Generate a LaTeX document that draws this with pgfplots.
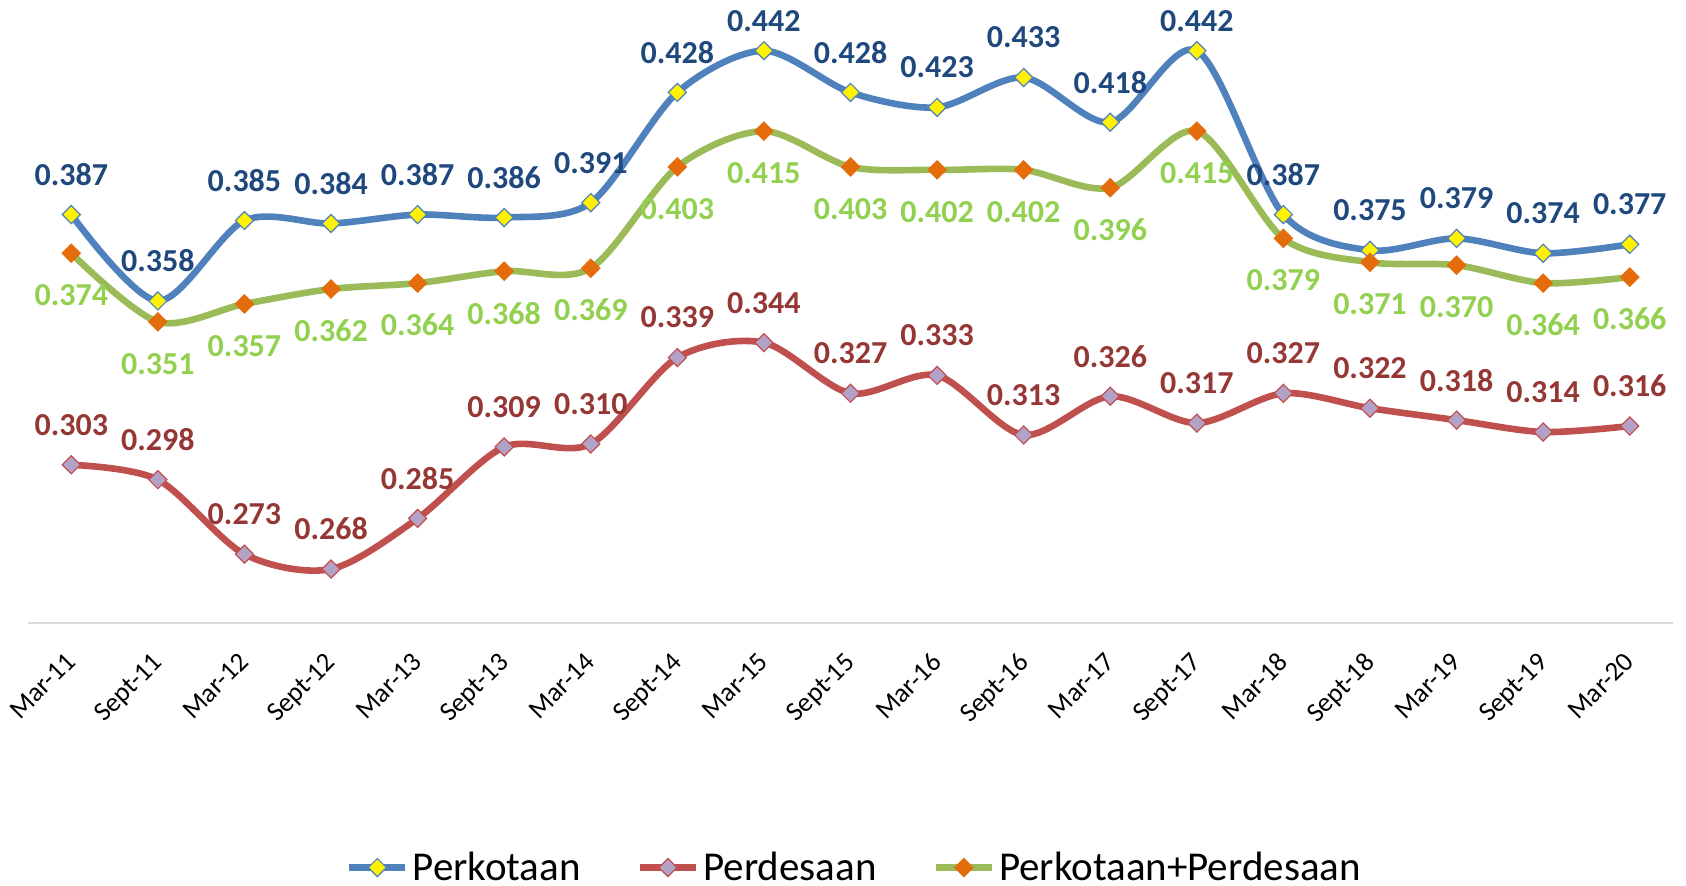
\documentclass[border=0pt]{standalone}
\usepackage{fontspec}
\setmainfont{Carlito}
\usepackage{pgfplots}
\pgfplotsset{compat=1.18}
\definecolor{lblue}{HTML}{4F81BD}
\definecolor{lred}{HTML}{C0504D}
\definecolor{lgreen}{HTML}{9BBB59}
\definecolor{tblue}{HTML}{1F497D}
\definecolor{tred}{HTML}{953735}
\definecolor{tgreen}{HTML}{92D050}
\definecolor{mlav}{HTML}{B3A2C7}
\definecolor{morange}{HTML}{E46C0A}
\begin{document}
\begin{tikzpicture}
\path[use as bounding box] (-14pt,-131.65pt) rectangle (829pt,311.35pt);
\begin{axis}[
  at={(0,0)}, anchor=south west,
  scale only axis, width=822.5pt, height=297.9pt,
  xmin=-0.5, xmax=18.5, ymin=0.25, ymax=0.45,
  clip=false,
  axis y line=none,
  axis x line=bottom,
  x axis line style={-, draw=black!15, line width=1pt},
  xtick={0,...,18},
  major tick length=0pt,
  xticklabels={Mar-11,Sept-11,Mar-12,Sept-12,Mar-13,Sept-13,Mar-14,Sept-14,Mar-15,Sept-15,Mar-16,Sept-16,Mar-17,Sept-17,Mar-18,Sept-18,Mar-19,Sept-19,Mar-20},
  xticklabel style={rotate=45, anchor=north east, inner sep=0pt, font=\fontsize{13.5}{16}\selectfont, yshift=-7.5pt, xshift=-12.3pt},
  smooth, tension=0.5,
  every axis plot/.append style={line width=3.3pt},
  point meta=explicit symbolic,
  nodes near coords,
  legend columns=3,
  legend style={draw=none, fill=none, at={(0.503,-0.411)}, anchor=center,
    font=\fontsize{20.5}{24}\selectfont, nodes={inner ysep=1pt},
    /tikz/every even column/.append style={column sep=26pt}},
  legend image code/.code={\draw[mark repeat=2,mark phase=2,line width=3.3pt] plot coordinates {(0pt,0pt) (14pt,0pt) (28pt,0pt)};},
]
\addplot[lblue, mark=square*, mark size=3.2pt, mark options={rotate=45, fill=yellow, draw=lblue, line width=0.6pt},
  every node near coord/.style={anchor=center, yshift=20pt, text=tblue, font=\fontsize{16}{19}\selectfont\bfseries}]
coordinates {(0,0.387)[0.387] (1,0.358)[0.358] (2,0.385)[0.385] (3,0.384)[0.384] (4,0.387)[0.387] (5,0.386)[0.386] (6,0.391)[0.391] (7,0.428)[0.428] (8,0.442)[{}] (9,0.428)[0.428] (10,0.423)[0.423] (11,0.433)[0.433] (12,0.418)[0.418] (13,0.442)[{}] (14,0.387)[0.387] (15,0.375)[0.375] (16,0.379)[0.379] (17,0.374)[0.374] (18,0.377)[0.377]};
\addlegendentry{Perkotaan}
\addplot[draw=none, mark=none, forget plot,
  every node near coord/.style={anchor=center, yshift=15pt, text=tblue, font=\fontsize{16}{19}\selectfont\bfseries}]
coordinates {(8,0.442)[0.442] (13,0.442)[0.442]};
\addplot[lred, mark=square*, mark size=3.2pt, mark options={rotate=45, fill=mlav, draw=lred, line width=0.6pt},
  every node near coord/.style={anchor=center, yshift=20pt, text=tred, font=\fontsize{16}{19}\selectfont\bfseries}]
coordinates {(0,0.303)[0.303] (1,0.298)[0.298] (2,0.273)[0.273] (3,0.268)[0.268] (4,0.285)[0.285] (5,0.309)[0.309] (6,0.310)[0.310] (7,0.339)[0.339] (8,0.344)[0.344] (9,0.327)[0.327] (10,0.333)[0.333] (11,0.313)[0.313] (12,0.326)[0.326] (13,0.317)[0.317] (14,0.327)[0.327] (15,0.322)[0.322] (16,0.318)[0.318] (17,0.314)[0.314] (18,0.316)[0.316]};
\addlegendentry{Perdesaan}
\addplot[lgreen, mark=square*, mark size=3.2pt, mark options={rotate=45, fill=morange, draw=morange, line width=0.6pt},
  every node near coord/.style={anchor=center, yshift=-21pt, text=tgreen, font=\fontsize{16}{19}\selectfont\bfseries}]
coordinates {(0,0.374)[0.374] (1,0.351)[0.351] (2,0.357)[0.357] (3,0.362)[0.362] (4,0.364)[0.364] (5,0.368)[0.368] (6,0.369)[0.369] (7,0.403)[0.403] (8,0.415)[0.415] (9,0.403)[0.403] (10,0.402)[0.402] (11,0.402)[0.402] (12,0.396)[0.396] (13,0.415)[0.415] (14,0.379)[0.379] (15,0.371)[0.371] (16,0.370)[0.370] (17,0.364)[0.364] (18,0.366)[0.366]};
\addlegendentry{Perkotaan+Perdesaan}
\end{axis}
\end{tikzpicture}
\end{document}
